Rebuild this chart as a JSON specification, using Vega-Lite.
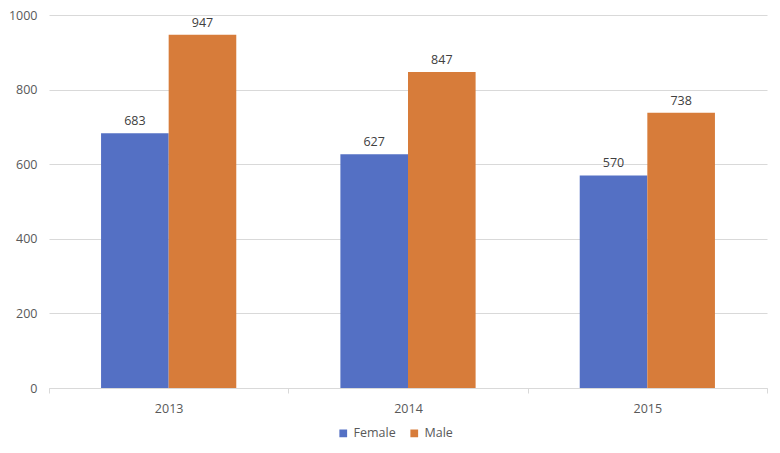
{
  "$schema": "https://vega.github.io/schema/vega-lite/v6.json",
  "width": 718,
  "height": 373,
  "autosize": {"type": "none"},
  "padding": {"left": 49, "top": 15, "right": 13, "bottom": 65},
  "background": "white",
  "config": {
    "view": {"stroke": null},
    "font": "Open Sans",
    "axis": {"labelFont": "Open Sans", "labelColor": "#595959", "labelFontSize": 12.5}
  },
  "data": {
    "values": [
      {"year": "2013", "sex": "Female", "value": 683},
      {"year": "2013", "sex": "Male", "value": 947},
      {"year": "2014", "sex": "Female", "value": 627},
      {"year": "2014", "sex": "Male", "value": 847},
      {"year": "2015", "sex": "Female", "value": 570},
      {"year": "2015", "sex": "Male", "value": 738}
    ]
  },
  "encoding": {
    "x": {
      "field": "year", "type": "nominal",
      "scale": {"paddingInner": 0, "paddingOuter": 0},
      "axis": {"title": null, "labelAngle": 0, "domainColor": "#d9d9d9", "tickColor": "#d9d9d9", "tickBand": "extent", "tickSize": 5, "labelPadding": 9}
    },
    "xOffset": {"field": "sex", "type": "nominal", "scale": {"paddingInner": 0, "paddingOuter": 0.77}},
    "y": {
      "field": "value", "type": "quantitative",
      "scale": {"domain": [0, 1000], "nice": false},
      "axis": {"title": null, "format": "d", "values": [0, 200, 400, 600, 800, 1000], "labelOverlap": false, "domain": false, "ticks": false, "gridColor": "#d9d9d9", "labelPadding": 12}
    }
  },
  "layer": [
    {
      "mark": {"type": "bar"},
      "encoding": {
        "color": {
          "field": "sex", "type": "nominal",
          "scale": {"domain": ["Female", "Male"], "range": ["#5470c4", "#d77c3a"]},
          "legend": {"title": null, "orient": "none", "direction": "horizontal", "legendX": 288, "legendY": 412, "symbolType": "square", "symbolSize": 60, "labelFontSize": 12.5, "labelColor": "#595959", "labelFont": "Open Sans", "columnPadding": 12, "symbolStrokeWidth": 0}
        }
      }
    },
    {
      "mark": {"type": "text", "dy": -12, "fontSize": 12.5, "color": "#404040", "font": "Open Sans"},
      "encoding": {"text": {"field": "value", "type": "quantitative"}}
    }
  ]
}
